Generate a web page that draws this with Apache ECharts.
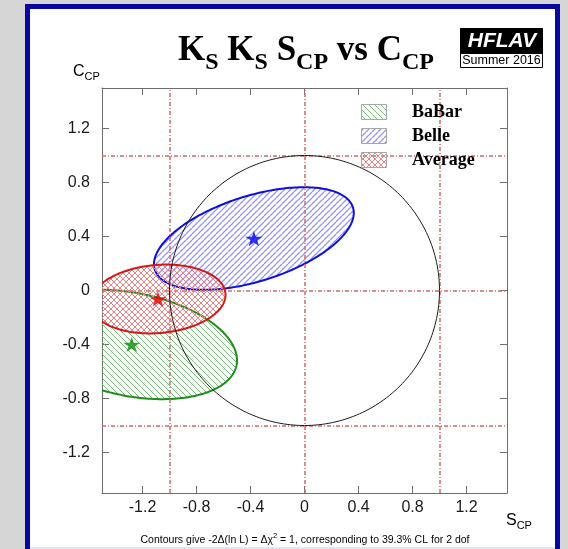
<!DOCTYPE html>
<html>
<head>
<meta charset="utf-8">
<title>KS KS SCP vs CCP</title>
<script src="https://cdn.jsdelivr.net/npm/echarts@6/dist/echarts.min.js"></script>
<style>
  html, body { margin: 0; padding: 0; background: #d6d6d6; overflow: hidden; }
  #frame {
    position: absolute; left: 25px; top: 4px; width: 535px; height: 600px;
    box-sizing: border-box; border: 5px solid #0808a0; background: #ffffff;
  }
  #rim { position: absolute; left: 30px; top: 547px; width: 525px; height: 2px; background: #e4e4f6; }
  #chart { position: absolute; left: 0; top: 0; width: 568px; height: 549px; }
</style>
</head>
<body>
<div id="frame"></div>
<div id="rim"></div>
<div id="chart"></div>
<script>
// ---- measurements: central values, 1-sigma errors and correlation ----
const experiments = ['BaBar', 'Belle', 'Average'];
const centerS = [-1.28, -0.375, -1.085];
const centerC = [-0.40, 0.385, -0.063];
const sigmaS  = [0.78, 0.74, 0.50];
const sigmaC  = [0.405, 0.38, 0.255];
const rhoSC   = [-0.29, 0.50, 0.12];

// physical boundary S^2 + C^2 = 1
const boundaryCenter = [0, 0];
const boundaryRadius = [1];

// dash-dot guide lines
const guideS = [-1, 0, 1];
const guideC = [-1, 0, 1];

// axis range and tick labels
const axisMin = -1.5, axisMax = 1.5;
const tickValues = [-1.2, -0.8, -0.4, 0, 0.4, 0.8, 1.2];

// ---- styling ----
const lineColors  = ['#1e8c1e', '#1010d8', '#d41818'];
const hatchColors = ['rgb(120,190,120)', 'rgb(150,150,248)', 'rgb(232,130,130)'];
const hatchWidths = [1, 1.3, 1];
const hatchDirs   = [['down'], ['up'], ['down', 'up']];
const starColors  = ['#0a8a0a', '#0000e6', '#e00000'];
const axisColor = '#6e6e6e';
const SANS = '"Liberation Sans", Arial, Helvetica, sans-serif';
const SERIF = '"Liberation Serif", "Times New Roman", Times, serif';

// repeating tile of soft diagonal hatch lines
function hatch(color, width, dirs, n) {
  const c = document.createElement('canvas');
  c.width = n; c.height = n;
  const g = c.getContext('2d');
  g.strokeStyle = color; g.lineWidth = width;
  dirs.forEach(d => {
    [-n, 0, n].forEach(o => {
      g.beginPath();
      if (d === 'down') { g.moveTo(o, 0); g.lineTo(o + n, n); }
      else { g.moveTo(o + n, 0); g.lineTo(o, n); }
      g.stroke();
    });
  });
  return { image: c, repeat: 'repeat' };
}
const patterns = experiments.map((_, i) => hatch(hatchColors[i], hatchWidths[i], hatchDirs[i], 6));

// Δχ² = 1 contour of a correlated 2D Gaussian, mapped through the axes
function contourShape(params, api, fill, stroke, width) {
  const cx = api.value(0), cy = api.value(1);
  const sx = api.value(2), sy = api.value(3), r = api.value(4);
  const pts = [];
  const n = 240;
  for (let k = 0; k < n; k++) {
    const t = 2 * Math.PI * k / n;
    pts.push(api.coord([
      cx + sx * Math.cos(t),
      cy + sy * (r * Math.cos(t) + Math.sqrt(1 - r * r) * Math.sin(t))
    ]));
  }
  const cs = params.coordSys;
  return {
    type: 'polygon',
    shape: { points: pts },
    style: { fill: fill, stroke: stroke, lineWidth: width },
    clipPath: { type: 'rect', shape: { x: cs.x, y: cs.y, width: cs.width, height: cs.height } }
  };
}

const starPath = 'path://M50,0L61.2,34.5L97.6,34.5L68.2,55.9L79.4,90.5L50,69.1L20.6,90.5L31.8,55.9L2.4,34.5L38.8,34.5Z';

// text runs with sub/superscripts
const mctx = document.createElement('canvas').getContext('2d');
function textRun(parts, x, y, align) {
  const widths = parts.map(p => { mctx.font = p.font; return mctx.measureText(p.text).width; });
  const total = widths.reduce((a, b) => a + b, 0);
  let cx = align === 'center' ? x - total / 2 : (align === 'right' ? x - total : x);
  return parts.map((p, i) => {
    const el = {
      type: 'text', x: cx, y: y + (p.dy || 0), z: 100,
      style: {
        text: p.text, font: p.font, fill: p.fill || '#000',
        align: 'left', verticalAlign: 'middle',
        textAlign: 'left', textVerticalAlign: 'middle'
      }
    };
    cx += widths[i];
    return el;
  });
}

const titleMain = 'bold 35px ' + SERIF;
const titleSub = 'bold 24px ' + SERIF;
const titleParts = [
  { text: 'K', font: titleMain }, { text: 'S', font: titleSub, dy: 12 },
  { text: ' K', font: titleMain }, { text: 'S', font: titleSub, dy: 12 },
  { text: ' S', font: titleMain }, { text: 'CP', font: titleSub, dy: 12 },
  { text: ' vs C', font: titleMain }, { text: 'CP', font: titleSub, dy: 12 }
];

const axisMainFont = '16px ' + SANS;
const axisSubFont = '11px ' + SANS;
const noteFont = '10.5px ' + SANS;
const noteSup = '7.5px ' + SANS;

const legendFont = 'bold 18px ' + SERIF;
const legendBoxes = [104, 128, 152];

const graphics = []
  .concat(textRun(titleParts, 306, 51, 'center'))
  .concat(textRun([{ text: 'C', font: axisMainFont }, { text: 'CP', font: axisSubFont, dy: 5 }], 73, 72, 'left'))
  .concat(textRun([{ text: 'S', font: axisMainFont }, { text: 'CP', font: axisSubFont, dy: 5 }], 506, 521, 'left'))
  .concat(textRun([
    { text: 'Contours give -2\u0394(ln L) = \u0394\u03c7', font: noteFont },
    { text: '2', font: noteSup, dy: -4 },
    { text: ' = 1, corresponding to 39.3% CL for 2 dof', font: noteFont }
  ], 305, 540, 'center'));

// legend
experiments.forEach((name, i) => {
  graphics.push({
    type: 'rect', z: 100,
    shape: { x: 361.5, y: legendBoxes[i] + 0.5, width: 25, height: 15 },
    style: { fill: patterns[i], stroke: '#a8a8a8', lineWidth: 1 }
  });
  graphics.push({
    type: 'text', z: 100, x: 412, y: legendBoxes[i] + 8,
    style: { text: name, font: legendFont, fill: '#000', align: 'left', verticalAlign: 'middle',
             textAlign: 'left', textVerticalAlign: 'middle' }
  });
});

// HFLAV badge
graphics.push({
  type: 'rect', z: 100, shape: { x: 460.5, y: 28.5, width: 82, height: 25 },
  style: { fill: '#000', stroke: '#000', lineWidth: 1 }
});
graphics.push({
  type: 'rect', z: 100, shape: { x: 460.5, y: 53.5, width: 82, height: 14 },
  style: { fill: '#fff', stroke: '#000', lineWidth: 1 }
});
graphics.push({
  type: 'text', z: 101, x: 502, y: 41.5,
  style: { text: 'HFLAV', font: 'italic bold 21px ' + SANS, fill: '#fff', align: 'center', verticalAlign: 'middle',
           textAlign: 'center', textVerticalAlign: 'middle' }
});
graphics.push({
  type: 'text', z: 101, x: 501.5, y: 61,
  style: { text: 'Summer 2016', font: '12.5px ' + SANS, fill: '#000', align: 'center', verticalAlign: 'middle',
           textAlign: 'center', textVerticalAlign: 'middle' }
});

function fmt(v) { return String(+v.toFixed(1)); }

function makeAxis(position, showLabels, margin) {
  return {
    type: 'value', position: position, min: axisMin, max: axisMax,
    axisLine: { show: true, onZero: false, lineStyle: { color: axisColor, width: 1 } },
    axisTick: { show: true, inside: true, length: 7, customValues: tickValues,
                lineStyle: { color: axisColor, width: 1 } },
    axisLabel: { show: showLabels, customValues: tickValues, formatter: fmt, margin: margin,
                 fontFamily: SANS, fontSize: 16, color: '#1a1a1a' },
    splitLine: { show: false }
  };
}

const series = [];

// guide lines
series.push({
  type: 'scatter', name: 'guides', data: [], silent: true, z: 1,
  markLine: {
    silent: true, symbol: ['none', 'none'], label: { show: false }, animation: false,
    lineStyle: { color: '#d06a6a', width: 1.5, type: [4, 2, 1, 2] },
    emphasis: { disabled: true },
    data: guideS.map(v => ({ xAxis: v })).concat(guideC.map(v => ({ yAxis: v })))
  }
});

// contours
experiments.forEach((name, i) => {
  series.push({
    type: 'custom', name: name, coordinateSystem: 'cartesian2d', clip: true, z: 3 + i,
    silent: true,
    data: [[centerS[i], centerC[i], sigmaS[i], sigmaC[i], rhoSC[i]]],
    renderItem: (params, api) => contourShape(params, api, patterns[i], lineColors[i], 2)
  });
});

// physical boundary circle
series.push({
  type: 'custom', name: 'boundary', coordinateSystem: 'cartesian2d', clip: true, z: 8, silent: true,
  data: [[boundaryCenter[0], boundaryCenter[1], boundaryRadius[0], boundaryRadius[0], 0]],
  renderItem: (params, api) => contourShape(params, api, 'none', '#1a1a1a', 1)
});

// central values
experiments.forEach((name, i) => {
  series.push({
    type: 'scatter', name: name + ' central', z: 10, silent: true,
    symbol: starPath, symbolSize: [17, 16], symbolKeepAspect: true,
    itemStyle: { color: starColors[i] },
    data: [[centerS[i], centerC[i]]]
  });
});

const chart = echarts.init(document.getElementById('chart'), null, { renderer: 'canvas' });
chart.setOption({
  animation: false,
  backgroundColor: 'transparent',
  grid: { left: 102, top: 88, width: 405, height: 405, containLabel: false },
  xAxis: [makeAxis('bottom', true, 7), makeAxis('top', false, 7)],
  yAxis: [makeAxis('left', true, 12), makeAxis('right', false, 12)],
  series: series,
  graphic: { elements: graphics }
});
</script>
</body>
</html>
